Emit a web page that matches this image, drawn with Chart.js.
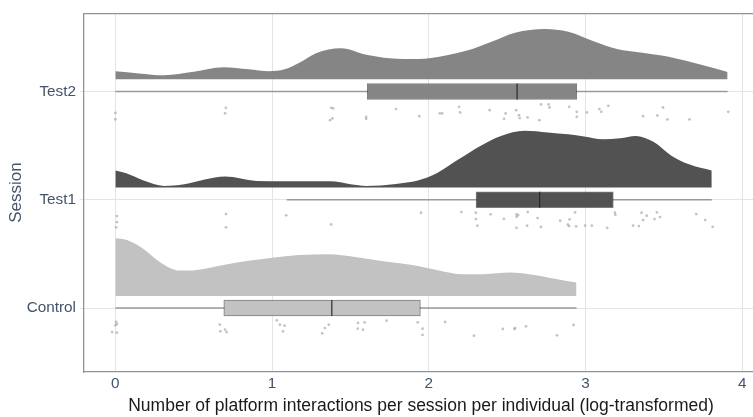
<!DOCTYPE html>
<html><head><meta charset="utf-8">
<script src="https://cdn.jsdelivr.net/npm/chart.js@4/dist/chart.umd.min.js"></script>
<style>html,body{margin:0;padding:0;overflow:hidden;background:#fff;width:753px;height:417px}canvas{display:block}</style>
</head><body><canvas id="c" width="762" height="417"></canvas>
<script>
// ---------- data ----------
const categories = ['Control', 'Test1', 'Test2'];
const xTickValues = [0, 1, 2, 3, 4];
const xTitle = 'Number of platform interactions per session per individual (log-transformed)';
const yTitle = 'Session';

// box-plot statistics (per category, same order as categories)
const boxMin    = [0.000, 1.093, 0.000];
const boxQ1     = [0.692, 2.301, 1.607];
const boxMedian = [1.381, 2.707, 2.563];
const boxQ3     = [1.946, 3.177, 2.944];
const boxMax    = [2.942, 3.805, 3.906];

// half-violin densities (relative height, in category units)
const controlDensX = [0, 0.074, 0.18, 0.285, 0.41, 0.52, 0.69, 0.86, 1.0, 1.17, 1.36, 1.53, 1.70, 1.93, 2.05, 2.22, 2.35, 2.52, 2.64, 2.82, 2.942];
const controlDensY = [0.533, 0.517, 0.434, 0.311, 0.234, 0.240, 0.286, 0.326, 0.353, 0.378, 0.385, 0.360, 0.323, 0.277, 0.240, 0.200, 0.200, 0.215, 0.200, 0.154, 0.123];
const test1DensX = [0, 0.07, 0.18, 0.31, 0.44, 0.57, 0.70, 0.90, 1.07, 1.37, 1.50, 1.60, 1.79, 1.93, 2.05, 2.19, 2.34, 2.46, 2.61, 2.76, 2.89, 2.99, 3.11, 3.22, 3.32, 3.43, 3.55, 3.66, 3.805];
const test1DensY = [0.157, 0.132, 0.065, 0.016, 0.030, 0.074, 0.102, 0.062, 0.058, 0.058, 0.032, 0.016, 0.034, 0.065, 0.132, 0.261, 0.394, 0.477, 0.526, 0.510, 0.492, 0.471, 0.446, 0.455, 0.477, 0.425, 0.293, 0.215, 0.157];
const test2DensX = [0, 0.15, 0.31, 0.50, 0.69, 0.85, 0.98, 1.08, 1.18, 1.28, 1.44, 1.60, 1.75, 1.93, 2.10, 2.25, 2.40, 2.55, 2.74, 2.89, 3.06, 3.20, 3.35, 3.53, 3.75, 3.906];
const test2DensY = [0.074, 0.055, 0.037, 0.069, 0.111, 0.092, 0.074, 0.092, 0.157, 0.240, 0.286, 0.226, 0.194, 0.187, 0.217, 0.268, 0.347, 0.430, 0.464, 0.439, 0.347, 0.281, 0.249, 0.209, 0.129, 0.067];

// raw observations (x value) and their vertical jitter below the category line
const controlPtsX = [0.005, 0, 0.01, -0.02, 0.01, 0.666, 0.67, 0.70, 0.71, 1.03, 1.05, 1.08, 1.07, 1.337, 1.362, 1.32, 1.548, 1.59, 1.546, 1.58, 1.73, 1.929, 1.96, 1.96, 2.104, 2.288, 2.472, 2.546, 2.55, 2.62, 2.817, 2.923];
const controlPtsJ = [-0.129, -0.160, -0.148, -0.222, -0.228, -0.154, -0.215, -0.200, -0.222, -0.114, -0.154, -0.163, -0.215, -0.185, -0.154, -0.234, -0.138, -0.132, -0.191, -0.200, -0.117, -0.132, -0.191, -0.249, -0.129, -0.256, -0.194, -0.194, -0.185, -0.169, -0.252, -0.157];
const test1PtsX = [0.01, 0.01, 0.005, 0.706, 0.706, 1.09, 1.377, 1.95, 2.208, 2.30, 2.30, 2.31, 2.394, 2.479, 2.559, 2.56, 2.57, 2.559, 2.631, 2.627, 2.694, 2.715, 2.838, 2.898, 2.887, 2.895, 2.933, 2.94, 2.997, 3.04, 3.138, 3.187, 3.19, 3.303, 3.34, 3.357, 3.367, 3.39, 3.44, 3.455, 3.475, 3.706, 3.763, 3.811];
const test1PtsJ = [-0.151, -0.206, -0.255, -0.132, -0.255, -0.144, -0.228, -0.120, -0.114, -0.120, -0.179, -0.240, -0.135, -0.176, -0.135, -0.157, -0.142, -0.259, -0.114, -0.240, -0.169, -0.252, -0.194, -0.181, -0.231, -0.243, -0.117, -0.246, -0.240, -0.240, -0.259, -0.120, -0.139, -0.240, -0.243, -0.120, -0.188, -0.148, -0.179, -0.117, -0.160, -0.132, -0.188, -0.250];
const test2PtsX = [0, 0, 0.705, 0.70, 1.377, 1.39, 1.385, 1.37, 1.60, 1.60, 1.79, 1.939, 2.07, 2.085, 2.193, 2.20, 2.388, 2.49, 2.48, 2.557, 2.575, 2.58, 2.63, 2.705, 2.716, 2.764, 2.77, 2.895, 2.944, 2.944, 3.008, 3.088, 3.10, 3.145, 3.367, 3.458, 3.494, 3.522, 3.663, 3.91];
const test2PtsJ = [-0.198, -0.258, -0.151, -0.203, -0.151, -0.157, -0.249, -0.265, -0.234, -0.253, -0.163, -0.228, -0.203, -0.203, -0.142, -0.194, -0.173, -0.203, -0.253, -0.173, -0.219, -0.246, -0.240, -0.265, -0.120, -0.120, -0.148, -0.142, -0.188, -0.234, -0.194, -0.163, -0.188, -0.133, -0.228, -0.222, -0.148, -0.258, -0.258, -0.188];

// ---------- styling ----------
const fills = ['#c2c2c2', '#525252', '#858585'];
const slabOffset = 0.112;   // gap between category line and density base
const boxHalf = 0.074;      // half box height in category units
const densX = [controlDensX, test1DensX, test2DensX];
const densY = [controlDensY, test1DensY, test2DensY];
const ptsX = [controlPtsX, test1PtsX, test2PtsX];
const ptsJ = [controlPtsJ, test1PtsJ, test2PtsJ];
const tickColor = '#44546a';
const gridColor = '#e4e4e4';
const borderColor = '#8a94a6';
const fontFamily = "'Liberation Sans', Arial, sans-serif";

const datasets = [];
categories.forEach((cat, i) => {
  const c = i + 1;
  datasets.push({
    type: 'scatter', order: 1,
    data: ptsX[i].map((x, k) => ({x, y: c + ptsJ[i][k]})),
    pointRadius: 1.4, pointBackgroundColor: 'rgba(165,165,165,0.65)', pointBorderWidth: 0, showLine: false
  });
  datasets.push({
    type: 'line', order: 2,
    data: [{x: boxMedian[i], y: c - boxHalf}, {x: boxMedian[i], y: c + boxHalf}],
    borderColor: '#2a2a2a', borderWidth: 1.2, pointRadius: 0, fill: false
  });
  datasets.push({
    type: 'line', order: 4,
    data: [{x: boxMin[i], y: c}, {x: boxMax[i], y: c}],
    borderColor: '#9a9a9a', borderWidth: 1.4, pointRadius: 0, fill: false
  });
  datasets.push({
    type: 'line', order: 5,
    data: densX[i].map((x, k) => ({x, y: c + slabOffset + densY[i][k]})),
    borderWidth: 0, borderColor: fills[i], backgroundColor: fills[i],
    pointRadius: 0, cubicInterpolationMode: 'monotone',
    fill: {value: c + slabOffset}
  });
});
// boxes: one floating horizontal bar per category
datasets.push({
  type: 'bar', order: 3, indexAxis: 'y', grouped: false,
  data: categories.map((_, i) => ({x: [boxQ1[i], boxQ3[i]], y: i + 1})),
  backgroundColor: fills, borderColor: 'rgba(40,40,40,0.6)', borderWidth: 1,
  borderSkipped: false, barThickness: 16, xAxisID: 'x', yAxisID: 'y'
});

const tickFont = {family: fontFamily, size: 15.3};

new Chart(document.getElementById('c'), {
  type: 'scatter',
  data: {datasets},
  options: {
    responsive: false, animation: false, devicePixelRatio: 1,
    layout: {padding: 0},
    plugins: {legend: {display: false}, tooltip: {enabled: false}},
    scales: {
      x: {
        type: 'linear', position: 'bottom', min: -0.2, max: 4.1, offset: false, beginAtZero: false,
        afterBuildTicks: s => { s.ticks = xTickValues.map(v => ({value: v})); },
        ticks: {font: tickFont, color: tickColor, padding: 3, includeBounds: false},
        grid: {color: gridColor, lineWidth: 1, drawTicks: false, offset: false},
        border: {display: true, color: borderColor, width: 1.3},
        title: {display: true, text: xTitle, color: '#1a1a1a',
          font: {family: fontFamily, size: 17.5}, padding: {top: 0, bottom: 0}},
        afterFit: s => { s.height = 45; }
      },
      xTop: {
        type: 'linear', position: 'top', min: -0.2, max: 4.1,
        ticks: {display: false}, grid: {display: false, drawTicks: false},
        border: {display: true, color: borderColor, width: 1.3},
        afterFit: s => { s.height = 13; }
      },
      y: {
        type: 'linear', position: 'left', min: 0.409, max: 3.723, offset: false,
        afterBuildTicks: s => { s.ticks = categories.map((_, i) => ({value: i + 1})); },
        ticks: {font: tickFont, color: tickColor, padding: 4,
          callback: v => categories[Math.round(v) - 1]},
        grid: {color: gridColor, lineWidth: 1, tickLength: 4, offset: false},
        border: {display: true, color: borderColor, width: 1.3},
        title: {display: true, text: yTitle, color: tickColor,
          font: {family: fontFamily, size: 17}, padding: {top: 6, bottom: 0}},
        afterFit: s => { s.width = 84; }
      }
    }
  }
});
</script>
</body></html>
